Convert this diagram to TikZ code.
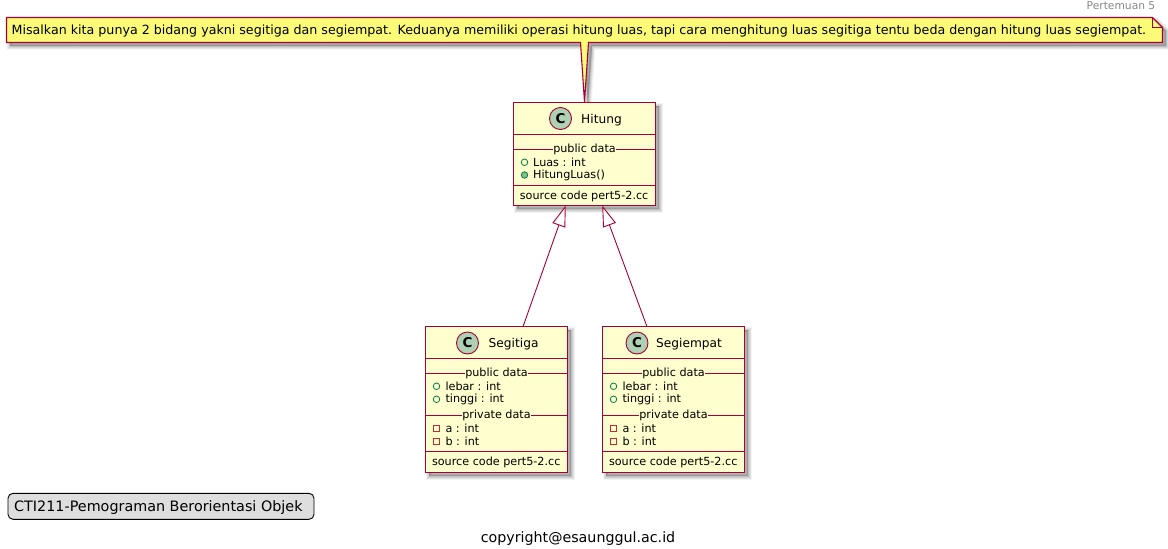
\documentclass[tikz,border=0pt]{standalone}
\usepackage{fontspec}
\setmainfont{DejaVu Sans}
\usetikzlibrary{arrows.meta}
\definecolor{umlline}{HTML}{A80036}
\definecolor{umlfill}{HTML}{FEFECE}
\definecolor{umlnote}{HTML}{FBFB77}
\definecolor{umlcircle}{HTML}{ADD1B2}
\definecolor{umlgreen}{HTML}{038048}
\definecolor{umlmethod}{HTML}{84BE84}
\definecolor{umlred}{HTML}{C82930}
\tikzset{
  softshadow/.style={
    preaction={draw=black,fill=black,draw opacity=.05,fill opacity=.05,line width=7pt,transform canvas={shift={(3.5pt,-3.5pt)}}},
    preaction={draw=black,fill=black,draw opacity=.07,fill opacity=.07,line width=5pt,transform canvas={shift={(3.5pt,-3.5pt)}}},
    preaction={draw=black,fill=black,draw opacity=.08,fill opacity=.08,line width=3pt,transform canvas={shift={(3.5pt,-3.5pt)}}},
    preaction={draw=black,fill=black,draw opacity=.08,fill opacity=.08,line width=1pt,transform canvas={shift={(3.5pt,-3.5pt)}}}},
  classbox/.style={draw=umlline,fill=umlfill,line width=1.4pt,minimum width=142pt,inner sep=0pt,outer sep=0pt,softshadow},
  classline/.style={draw=umlline,line width=1.1pt},
  classicon/.style={circle,draw=umlline,fill=umlcircle,line width=.9pt,minimum size=22pt,inner sep=0pt,font=\fontsize{13.5}{15}\selectfont\bfseries},
  classtitle/.style={anchor=base west,inner sep=0pt,font=\fontsize{12.2}{14}\selectfont},
  member/.style={anchor=base west,inner sep=0pt,font=\fontsize{11.2}{12}\selectfont},
  section/.style={anchor=base,inner sep=0pt,fill=umlfill,font=\fontsize{11.2}{12}\selectfont},
  pubfield/.style={circle,draw=umlgreen,line width=.8pt,minimum size=6.5pt,inner sep=0pt},
  pubmethod/.style={pubfield,fill=umlmethod},
  privfield/.style={rectangle,draw=umlred,line width=.8pt,minimum size=6pt,inner sep=0pt},
  extends/.style={draw=umlline,line width=.9pt,-{Triangle[open,length=21pt,width=13.5pt,fill=white]}}
}
\begin{document}
\begin{tikzpicture}[x=1pt,y=-1pt]
  \useasboundingbox (0,0) rectangle (1168,549);
  % note with tail
  \draw[draw=umlline,fill=umlnote,line width=1.1pt,softshadow]
    (6.5,17.5) -- (1152.5,17.5) -- (1162.5,27.5) -- (1162.5,42.5) -- (588.5,42.5)
    -- (584.5,102) -- (580.5,42.5) -- (6.5,42.5) -- cycle;
  \draw[draw=umlline,line width=.9pt] (1152.5,17.5) -- (1152.5,27.5) -- (1162.5,27.5);
  \node (note) [anchor=base west,inner sep=0pt,font=\fontsize{12.65}{14}\selectfont] at (11.5,34.5)
    {Misalkan kita punya 2 bidang yakni segitiga dan segiempat. Keduanya memiliki operasi hitung luas, tapi cara menghitung luas segitiga tentu beda dengan hitung luas segiempat.};
  \node (header) [anchor=base east,inner sep=0pt,text=black!47,font=\fontsize{10.7}{12}\selectfont] at (1155.5,9) {Pertemuan 5};

  % parent class
  \node (hitung) [classbox,minimum height=103pt] at (584.5,154) {};
  \node (hitungC) [classicon] at (560.5,118.5) {C};
  \node (hitungT) [classtitle] at (581,123.5) {Hitung};
  \draw[classline] (513.5,134.5) -- (655.5,134.5);
  \draw[classline] (513.5,149.5) -- (655.5,149.5);
  \node (hitungP) [section] at (584.5,152.3) {public data};
  \node (hitungI) [pubfield] at (524.5,162.3) {};
  \node (hitungL) [member] at (533,166) {Luas : int};
  \node (hitungJ) [pubmethod] at (524.5,175) {};
  \node (hitungM) [member] at (533,178.7) {HitungLuas()};
  \draw[classline] (513.5,185.5) -- (655.5,185.5);
  \node (hitungS) [member] at (519.7,199) {source code pert5-2.cc};

  % child classes
  \foreach \name/\title/\left/\ix/\tx/\angA/\angB in {segitiga/Segitiga/425.5/42/63/70.3/-110.8, segiempat/Segiempat/602.5/34.5/53.5/110.6/-71.1} {
    \begin{scope}[shift={(\left,0)}]
      \node (\name) [classbox,minimum height=146pt] at (71,399.5) {};
      \node (\name C) [classicon] at (\ix,343) {C};
      \node (\name T) [classtitle] at (\tx,347) {\title};
      \draw[classline] (0,358.5) -- (142,358.5);
      \draw[classline] (0,373.5) -- (142,373.5);
      \node (\name P) [section] at (71,376) {public data};
      \node (\name I) [pubfield] at (11,386.3) {};
      \node (\name L) [member] at (19.8,390) {lebar : int};
      \node (\name J) [pubfield] at (11,399.3) {};
      \node (\name G) [member] at (19.8,402.7) {tinggi : int};
      \draw[classline] (0,415.5) -- (142,415.5);
      \node (\name Q) [section] at (71,418) {private data};
      \node (\name K) [privfield] at (11,428.3) {};
      \node (\name A) [member] at (19.8,432.3) {a : int};
      \node (\name U) [privfield] at (11,441.3) {};
      \node (\name B) [member] at (19.8,445) {b : int};
      \draw[classline] (0,451.5) -- (142,451.5);
      \node (\name S) [member] at (6.3,465.7) {source code pert5-2.cc};
    \end{scope}
    \draw[extends] (\name.\angA) -- (hitung.\angB);
  }

  % legend and footer
  \node (legend) [draw=black,fill=black!13,rounded corners=5pt,line width=.9pt,minimum width=306pt,minimum height=26pt,inner sep=0pt] at (161,506.3) {};
  \node (legendT) [anchor=base west,inner sep=0pt,font=\fontsize{14.35}{16}\selectfont] at (14,511) {CTI211-Pemograman Berorientasi Objek};
  \node (footer) [anchor=base,inner sep=0pt,font=\fontsize{14.25}{16}\selectfont] at (578,542) {copyright@esaunggul.ac.id};
\end{tikzpicture}
\end{document}
